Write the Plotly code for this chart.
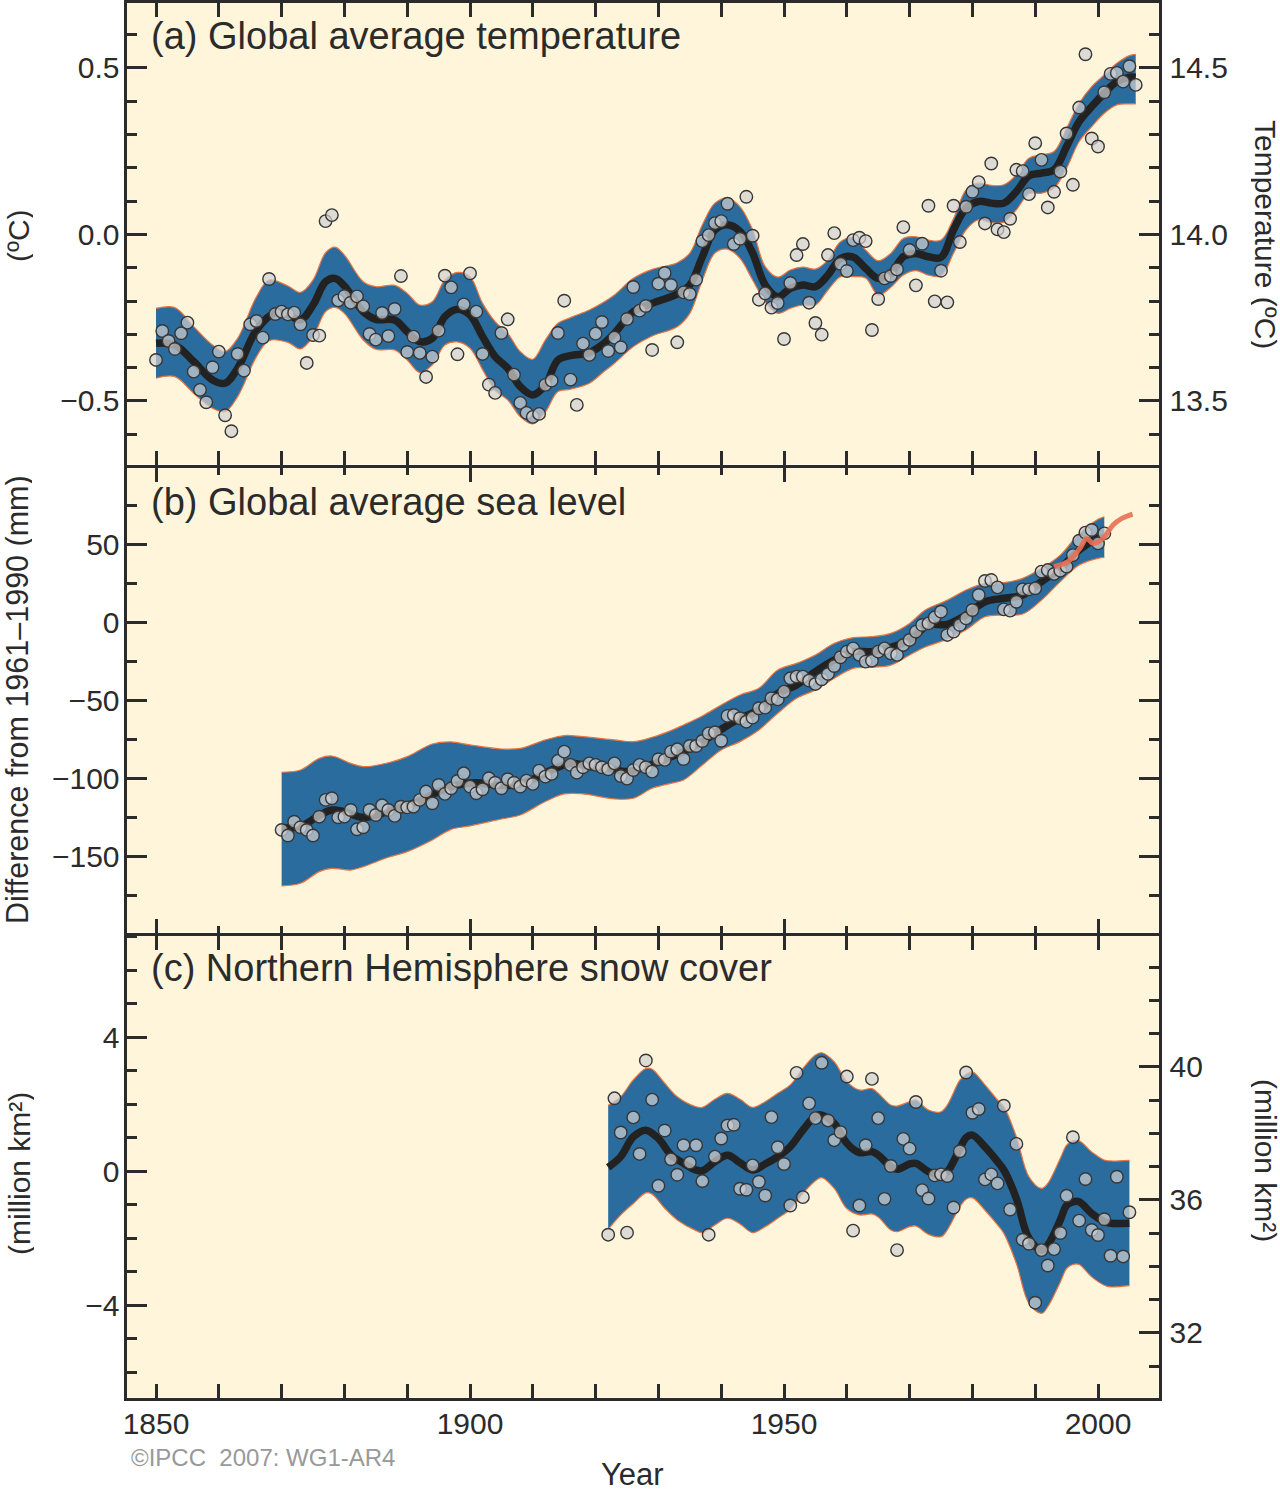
# Indicators of climate change: temperature, sea level, snow cover
import plotly.graph_objects as go

# (a) Global average temperature
temp_years = list(range(1850, 2007))
temp_values = [
    -0.377, -0.29, -0.32, -0.344, -0.297, -0.265, -0.412, -0.467, -0.504, -0.399,
    -0.352, -0.543, -0.591, -0.359, -0.409, -0.27, -0.26, -0.31, -0.134, -0.239,
    -0.232, -0.24, -0.235, -0.27, -0.386, -0.302, -0.304, 0.04, 0.058, -0.198,
    -0.185, -0.205, -0.186, -0.216, -0.299, -0.316, -0.236, -0.305, -0.224, -0.125,
    -0.353, -0.307, -0.356, -0.428, -0.367, -0.289, -0.124, -0.159, -0.36, -0.21,
    -0.117, -0.232, -0.359, -0.451, -0.476, -0.296, -0.255, -0.421, -0.506, -0.536,
    -0.548, -0.539, -0.452, -0.439, -0.296, -0.199, -0.436, -0.512, -0.328, -0.362,
    -0.298, -0.263, -0.35, -0.31, -0.339, -0.254, -0.158, -0.229, -0.215, -0.347,
    -0.148, -0.116, -0.152, -0.324, -0.174, -0.179, -0.136, -0.02, -0.002, 0.034,
    0.04, 0.092, -0.029, -0.013, 0.113, -0.004, -0.196, -0.177, -0.22, -0.206,
    -0.314, -0.146, -0.062, -0.029, -0.205, -0.266, -0.301, -0.062, 0.004, -0.088,
    -0.11, -0.017, -0.01, -0.02, -0.287, -0.194, -0.132, -0.125, -0.105, 0.022,
    -0.047, -0.153, -0.028, 0.086, -0.201, -0.109, -0.204, 0.086, -0.023, 0.083,
    0.128, 0.157, 0.033, 0.213, 0.015, 0.007, 0.047, 0.194, 0.19, 0.121,
    0.274, 0.224, 0.081, 0.128, 0.189, 0.303, 0.149, 0.381, 0.541, 0.288,
    0.264, 0.427, 0.482, 0.485, 0.459, 0.505, 0.449,
]
temp_line_years = [
    1850, 1853, 1856, 1859, 1861, 1863, 1866, 1869, 1871, 1873, 1875, 1877, 1878.5, 1880,
    1883, 1885, 1888, 1890, 1892, 1894, 1896, 1898, 1900, 1902, 1904, 1906, 1908, 1910,
    1912, 1914, 1916, 1919, 1921, 1923, 1926, 1929, 1933, 1935, 1937, 1939, 1941, 1943,
    1945, 1947, 1949, 1951, 1953, 1955, 1957, 1959, 1961, 1963, 1965, 1967, 1969, 1971,
    1973, 1975, 1977, 1979, 1981, 1983, 1985, 1987, 1989, 1991, 1993, 1995, 1997, 1999,
    2001, 2003, 2005, 2006,
]
temp_line = [
    -0.327, -0.332, -0.382, -0.437, -0.447, -0.402, -0.287, -0.235, -0.24, -0.257, -0.212,
    -0.142, -0.132, -0.155, -0.232, -0.255, -0.257, -0.292, -0.322, -0.312, -0.247, -0.225,
    -0.242, -0.307, -0.367, -0.402, -0.457, -0.482, -0.452, -0.377, -0.364, -0.355, -0.332,
    -0.297, -0.232, -0.207, -0.179, -0.152, -0.067, 0.014, 0.029, 0.009, -0.056, -0.152,
    -0.187, -0.162, -0.152, -0.157, -0.122, -0.072, -0.068, -0.102, -0.132, -0.117, -0.067,
    -0.057, -0.067, -0.069, 0.014, 0.079, 0.099, 0.094, 0.094, 0.129, 0.176, 0.184, 0.194,
    0.264, 0.339, 0.384, 0.424, 0.459, 0.472, 0.472,
]
temp_band_years = [
    1850, 1853, 1856, 1859, 1861, 1863, 1866, 1868, 1871, 1873, 1875, 1877, 1878.5, 1880,
    1883, 1885, 1888, 1890, 1892, 1894, 1896, 1898, 1900, 1902, 1904, 1906, 1908, 1910,
    1912, 1914, 1916, 1919, 1921, 1923, 1926, 1929, 1933, 1935, 1937, 1939, 1941, 1943,
    1945, 1947, 1949, 1951, 1953, 1955, 1957, 1959, 1961, 1963, 1965, 1967, 1969, 1971,
    1973, 1975, 1977, 1979, 1981, 1983, 1985, 1987, 1989, 1991, 1993, 1995, 1997, 1999,
    2001, 2003, 2005, 2006,
]
temp_upper = [
    -0.222, -0.22, -0.277, -0.332, -0.352, -0.312, -0.187, -0.137, -0.155, -0.174, -0.137,
    -0.055, -0.038, -0.062, -0.142, -0.157, -0.153, -0.177, -0.212, -0.202, -0.137, -0.114,
    -0.127, -0.207, -0.262, -0.297, -0.352, -0.375, -0.317, -0.267, -0.25, -0.227, -0.207,
    -0.182, -0.132, -0.105, -0.085, -0.056, 0.029, 0.094, 0.109, 0.083, 0.014, -0.097,
    -0.128, -0.107, -0.098, -0.104, -0.077, -0.022, -0.01, -0.047, -0.079, -0.057, -0.012,
    -0.007, -0.017, -0.017, 0.048, 0.134, 0.154, 0.147, 0.149, 0.179, 0.229, 0.239, 0.249,
    0.319, 0.394, 0.444, 0.479, 0.514, 0.537, 0.541,
]
temp_lower = [
    -0.432, -0.427, -0.477, -0.522, -0.532, -0.487, -0.367, -0.319, -0.324, -0.344, -0.307,
    -0.232, -0.219, -0.237, -0.317, -0.345, -0.347, -0.377, -0.415, -0.392, -0.332, -0.323,
    -0.342, -0.406, -0.469, -0.497, -0.547, -0.569, -0.533, -0.472, -0.465, -0.447, -0.417,
    -0.387, -0.337, -0.305, -0.277, -0.237, -0.137, -0.056, -0.044, -0.072, -0.137, -0.202,
    -0.237, -0.222, -0.212, -0.212, -0.167, -0.127, -0.127, -0.131, -0.182, -0.159, -0.122,
    -0.109, -0.122, -0.125, -0.056, 0.014, 0.044, 0.035, 0.037, 0.074, 0.122, 0.124, 0.139,
    0.199, 0.279, 0.324, 0.364, 0.389, 0.392, 0.392,
]

# (b) Global average sea level
sea_years = list(range(1870, 2002))
sea_values = [
    -133.3, -136.9, -128, -131.6, -133.3, -136.9, -124.8, -114, -113, -125.2,
    -124.8, -120.5, -132.9, -131.6, -120.5, -123.7, -117.5, -120.5, -124.3, -118.4,
    -118.8, -118.4, -114, -108.7, -116.2, -104.5, -110.2, -106.6, -101.9, -97,
    -105.5, -109.8, -107.2, -100.2, -103, -106.6, -100.8, -103, -105.5, -101.7,
    -103.8, -95.3, -99.1, -97.4, -89, -83.1, -91.6, -96.6, -93.1, -90.6,
    -91.6, -93.1, -94.4, -90.6, -98.7, -100.4, -94.9, -91.6, -93.1, -95.9,
    -88, -88.4, -83.1, -81.6, -87.8, -79.5, -79.5, -76.3, -71.4, -70.7,
    -76.1, -60.2, -59.6, -61.7, -63.9, -61.3, -55.3, -54.9, -48.9, -49.6,
    -44.6, -36.1, -35, -35, -37.6, -39.7, -36.7, -33.3, -28.2, -22.6,
    -19, -16.9, -21.1, -25.4, -24.8, -19, -16.9, -20.1, -21.1, -14.7,
    -11.5, -6.2, -1.9, -0.9, 3.0, 6.6, -8.3, -6.2, -1.9, 2.3,
    7.7, 17.3, 26.3, 26.9, 22.2, 8.1, 7.3, 13, 20.9, 20.9,
    21.6, 32.3, 33.3, 30.8, 32.9, 35.5, 42.9, 52.1, 57.3, 59,
    50.4, 56.8,
]
sea_line_years = [
    1870, 1873, 1876, 1878, 1880, 1883, 1886, 1889, 1892, 1895, 1898, 1901, 1904, 1907,
    1910, 1913, 1916, 1919, 1922, 1925, 1928, 1931, 1934, 1937, 1940, 1943, 1946, 1949,
    1952, 1955, 1958, 1961, 1964, 1967, 1970, 1973, 1976, 1979, 1982, 1985, 1988, 1991,
    1994, 1997, 2000, 2001,
]
sea_line = [
    -132, -131, -124, -120.5, -121.6, -125.2, -122.6, -118.8, -114.7, -108.7, -104.5, -103,
    -104.5, -104.5, -100.8, -94.9, -90.6, -92.7, -93.8, -95.9, -92.7, -88, -83.1, -76.7,
    -68.8, -61.7, -56.4, -45.7, -40.4, -31.8, -24.4, -19, -19, -16.2, -11.5, -1.9, -1.5,
    4.5, 13, 15.2, 17.3, 25.9, 34.4, 46.1, 53.6, 53.6,
]
sea_band_years = [
    1870, 1873, 1876, 1878, 1881, 1883, 1887, 1890, 1894, 1897, 1900, 1905, 1908, 1912,
    1915, 1918, 1923, 1926, 1929, 1932, 1934, 1937, 1940, 1943, 1946, 1949, 1952, 1955,
    1958, 1961, 1964, 1967, 1970, 1972.5, 1976, 1979, 1982, 1985, 1988, 1991, 1994, 1997,
    2000, 2001,
]
sea_upper = [
    -96.3, -94.9, -87.4, -85.9, -90.6, -92.7, -90.2, -86.3, -78.2, -76.9, -78.8, -81.4,
    -81, -75.6, -72.8, -73.5, -75.6, -76.7, -73.9, -69.6, -66, -60.2, -53.2, -46.8, -42.5,
    -30.8, -26.5, -21.1, -13.7, -10, -9.4, -7.3, -0.9, 7.7, 14, 20.5, 24.8, 25.2, 28,
    34.4, 42.9, 56.8, 65.8, 67.5,
]
sea_lower = [
    -169.2, -167.5, -160, -157.9, -159, -156.8, -150.8, -147.2, -139.7, -132.9, -130.7,
    -126.3, -123.7, -115.1, -110.2, -110.2, -113.4, -113, -106.6, -103.4, -101.3, -91.7,
    -82, -76.7, -69.2, -58.5, -48.9, -43.6, -36.1, -29.7, -29, -27.6, -21.1, -16, -11, -5,
    3.4, 4.5, 5.1, 14, 25.9, 36.5, 40.8, 41.4,
]
# Altimetry
alti_years = [1993, 1995.2, 1997.1, 1998.2, 1999.2, 2000.8, 2002.4, 2003.8, 2005.5]
alti_values = [35.5, 38.7, 47.2, 53.6, 50.4, 53.6, 62.2, 66.4, 69.2]

# (c) Northern Hemisphere snow cover
snow_years = list(range(1922, 2006))
snow_values = [
    -1.9, 2.17, 1.15, -1.84, 1.6, 0.51, 3.3, 2.13, -0.44, 1.21,
    0.35, -0.11, 0.77, 0.25, 0.77, -0.3, -1.9, 0.43, 0.97, 1.36,
    1.38, -0.53, -0.56, 0.17, -0.32, -0.73, 1.61, 0.71, 0.21, -1.03,
    2.93, -0.78, 2.02, 1.58, 3.23, 1.51, 0.92, 1.16, 2.82, -1.78,
    -1.03, 0.77, 2.75, 1.58, -0.83, 0.15, -2.36, 0.96, 0.67, 2.06,
    -0.57, -0.82, -0.13, -0.1, -0.15, -1.09, 0.59, 2.94, 1.74, 1.85,
    -0.25, -0.1, -0.37, 1.95, -1.15, 0.81, -2.05, -2.17, -3.93, -2.36,
    -2.82, -2.33, -1.85, -0.74, 1.01, -1.48, -0.24, -1.76, -1.91, -1.44,
    -2.53, -0.17, -2.55, -1.23,
]
snow_line_years = [
    1922, 1924, 1926, 1928, 1930, 1932, 1934, 1936, 1937, 1939, 1941, 1943, 1945, 1947,
    1949, 1951, 1953, 1955, 1956, 1958, 1960, 1962, 1964, 1965, 1967, 1968, 1970, 1971,
    1973, 1975, 1976, 1978, 1979, 1980, 1982, 1984, 1985, 1987, 1989, 1991, 1992, 1994,
    1995, 1996, 1997, 1999, 2001, 2002, 2005,
]
snow_line = [
    0.11, 0.43, 1.02, 1.22, 0.97, 0.48, 0.23, 0.03, 0.01, 0.28, 0.47, 0.25, 0.03, 0.21,
    0.43, 0.73, 1.22, 1.64, 1.67, 1.42, 0.83, 0.55, 0.58, 0.48, 0.13, 0.05, 0.21, 0.23,
    -0.02, -0.12, -0.02, 0.67, 1.0, 1.07, 0.72, 0.28, 0.03, -0.82, -2.01, -2.36, -2.21,
    -1.46, -1.02, -0.92, -0.92, -1.27, -1.51, -1.56, -1.56,
]
snow_band_years = [
    1922, 1924, 1926, 1928, 1929, 1931, 1933, 1936, 1937, 1939, 1941, 1943, 1945, 1947,
    1949, 1951, 1953, 1955, 1956, 1958, 1960, 1962, 1964, 1965, 1967, 1968, 1970, 1971,
    1973, 1975, 1976, 1978, 1979, 1980, 1982, 1984, 1985, 1987, 1989, 1991, 1992, 1994,
    1995, 1996, 1997, 1999, 2001, 2002, 2005,
]
snow_upper = [
    1.96, 2.22, 2.72, 3.06, 3.04, 2.62, 2.22, 1.92, 1.9, 2.14, 2.32, 2.14, 1.9, 2.07,
    2.32, 2.57, 3.06, 3.46, 3.53, 3.26, 2.67, 2.42, 2.46, 2.32, 1.97, 1.94, 2.07, 2.12,
    1.82, 1.77, 1.97, 2.71, 2.89, 2.96, 2.57, 2.12, 1.92, 1.02, -0.17, -0.52, -0.37,
    0.38, 0.77, 0.9, 0.9, 0.57, 0.33, 0.3, 0.32,
]
snow_lower = [
    -1.74, -1.31, -0.97, -0.65, -0.69, -1.11, -1.46, -1.78, -1.84, -1.61, -1.41, -1.58,
    -1.84, -1.66, -1.41, -1.14, -0.67, -0.29, -0.2, -0.52, -1.12, -1.31, -1.28, -1.37,
    -1.76, -1.81, -1.66, -1.64, -1.89, -1.96, -1.76, -1.07, -0.84, -0.8, -1.17, -1.61,
    -1.86, -2.76, -3.95, -4.25, -4.05, -3.31, -2.91, -2.79, -2.79, -3.16, -3.41, -3.46,
    -3.42,
]

WIDTH = 1280
HEIGHT = 1491
CREAM = '#fff5da'
BLUE = '#2a6c9e'
EDGE = '#ea7440'
INK = '#2b2b2b'
FONT = 'Liberation Sans'


def fx(px):
    return px / WIDTH


def fy(px):
    return 1 - px / HEIGHT


def add_panel(fig, suffix, band_years, upper, lower, line_years, line, years, values):
    xa, ya = 'x' + suffix, 'y' + suffix
    fig.add_trace(go.Scatter(x=band_years, y=lower, xaxis=xa, yaxis=ya, mode='lines',
                             line=dict(color=EDGE, width=1.2, shape='spline')))
    fig.add_trace(go.Scatter(x=band_years, y=upper, xaxis=xa, yaxis=ya, mode='lines',
                             fill='tonexty', fillcolor=BLUE,
                             line=dict(color=EDGE, width=1.2, shape='spline')))
    fig.add_trace(go.Scatter(x=line_years, y=line, xaxis=xa, yaxis=ya, mode='lines',
                             line=dict(color='#222222', width=7.5, shape='spline')))
    fig.add_trace(go.Scatter(x=years, y=values, xaxis=xa, yaxis=ya, mode='markers',
                             marker=dict(size=12.5, color='rgba(208,208,210,0.71)',
                                         line=dict(color='#363636', width=1.4))))


fig = go.Figure()
add_panel(fig, '', temp_band_years, temp_upper, temp_lower, temp_line_years, temp_line,
          temp_years, temp_values)
add_panel(fig, '2', sea_band_years, sea_upper, sea_lower, sea_line_years, sea_line,
          sea_years, sea_values)
fig.add_trace(go.Scatter(x=alti_years, y=alti_values, xaxis='x2', yaxis='y2', mode='lines',
                         line=dict(color='rgba(232,112,84,0.9)', width=5, shape='spline')))
add_panel(fig, '3', snow_band_years, snow_upper, snow_lower, snow_line_years, snow_line,
          snow_years, snow_values)

# Absolute scales on the right, drawn with zero-width lines so the axes exist
fig.add_trace(go.Scatter(x=temp_line_years, y=[v + 14 for v in temp_line], xaxis='x', yaxis='y4',
                         mode='lines', line=dict(width=0), hoverinfo='skip'))
fig.add_trace(go.Scatter(x=snow_line_years, y=[v + 36.9 for v in snow_line], xaxis='x3', yaxis='y5',
                         mode='lines', line=dict(width=0), hoverinfo='skip'))

# Axis lines sit outside the plot area, so neighbouring panels overlap by one line width
x_common = dict(range=[1845.30, 2009.63], tickmode='linear', tick0=1850, dtick=50, ticks='inside',
                ticklen=14, tickwidth=3, tickcolor=INK, showline=True, linewidth=3, linecolor=INK,
                mirror='allticks', showgrid=False, zeroline=False, automargin=False,
                minor=dict(tickmode='linear', tick0=1850, dtick=10, ticks='inside', ticklen=7,
                           tickwidth=3, tickcolor=INK, showgrid=False),
                domain=[fx(126.5), fx(1158.5)])
y_common = dict(ticks='inside', ticklen=20, tickwidth=3, tickcolor=INK, showline=True, linewidth=3,
                linecolor=INK, showgrid=False, zeroline=False, automargin=False,
                tickfont=dict(family=FONT, size=30, color=INK))


def minor_y(step):
    return dict(tickmode='linear', tick0=0, dtick=step, ticks='inside', ticklen=10, tickwidth=3,
                tickcolor=INK, showgrid=False)


fig.update_layout(
    width=WIDTH, height=HEIGHT, margin=dict(l=0, r=0, t=0, b=0), showlegend=False,
    paper_bgcolor='white', plot_bgcolor=CREAM, hovermode=False,
    xaxis=dict(anchor='y', showticklabels=False, **x_common),
    xaxis2=dict(anchor='y2', showticklabels=False, **x_common),
    xaxis3=dict(anchor='y3', showticklabels=True, ticklabelstandoff=-3,
                tickfont=dict(family=FONT, size=30, color=INK), **x_common),
    yaxis=dict(anchor='x', domain=[fy(464.5), fy(3)], range=[-0.691, 0.695], tickmode='array',
               tickvals=[-0.5, 0, 0.5], tickformat='.1f', ticklabelstandoff=-2,
               minor=minor_y(0.1), **y_common),
    yaxis4=dict(anchor='x', overlaying='y', side='right', range=[13.309, 14.695], tickmode='array',
                tickvals=[13.5, 14, 14.5], tickformat='.1f', ticklabelstandoff=2,
                minor=minor_y(0.1), **y_common),
    yaxis2=dict(anchor='x2', domain=[fy(932.5), fy(467.5)], range=[-199.04, 99.04], tickmode='array',
                tickvals=[-150, -100, -50, 0, 50], mirror='ticks', ticklabelstandoff=-2,
                minor=minor_y(25), **y_common),
    yaxis3=dict(anchor='x3', domain=[fy(1397.5), fy(935.5)], range=[-6.76, 7.03], tickmode='array',
                tickvals=[-4, 0, 4], ticklabelstandoff=-2, minor=minor_y(1), **y_common),
    yaxis5=dict(anchor='x3', overlaying='y3', side='right', range=[30.06, 43.95], tickmode='array',
                tickvals=[32, 36, 40], ticklabelstandoff=2, minor=minor_y(1), **y_common),
)


def label(text, px, py, size=30, color=INK, angle=0, xanchor='center', box=None):
    # box: explicit text box height, keeps labels near the page edge inside the frame
    fig.add_annotation(text=text, x=fx(px), y=fy(py), xref='paper', yref='paper', showarrow=False,
                       xanchor=xanchor, yanchor='middle', textangle=angle, height=box,
                       font=dict(family=FONT, size=size, color=color))


label('(a) Global average temperature', 149, 36, size=38, xanchor='left')
label('(b) Global average sea level', 149, 502, size=38, xanchor='left')
label('(c) Northern Hemisphere snow cover', 149, 968, size=38, xanchor='left')
label('(ºC)', 18, 236, angle=-90, box=30)
label('Temperature (ºC)', 1265, 234, angle=90, box=28)
label('Difference from 1961–1990 (mm)', 17, 700, size=30.5, angle=-90, box=30)
label('(million km²)', 19, 1174, angle=-90, box=30)
label('(million km²)', 1265, 1160, angle=90, box=28)
label('Year', 632, 1474, size=31)
label('©IPCC  2007: WG1-AR4', 129, 1457, size=24, color='#999999', xanchor='left')

# The page's default body margin would push the figure off its 1280x1491 frame
fig.write_html("out.html", config=dict(displayModeBar=False),
               post_script="document.body.style.margin = '0';")
